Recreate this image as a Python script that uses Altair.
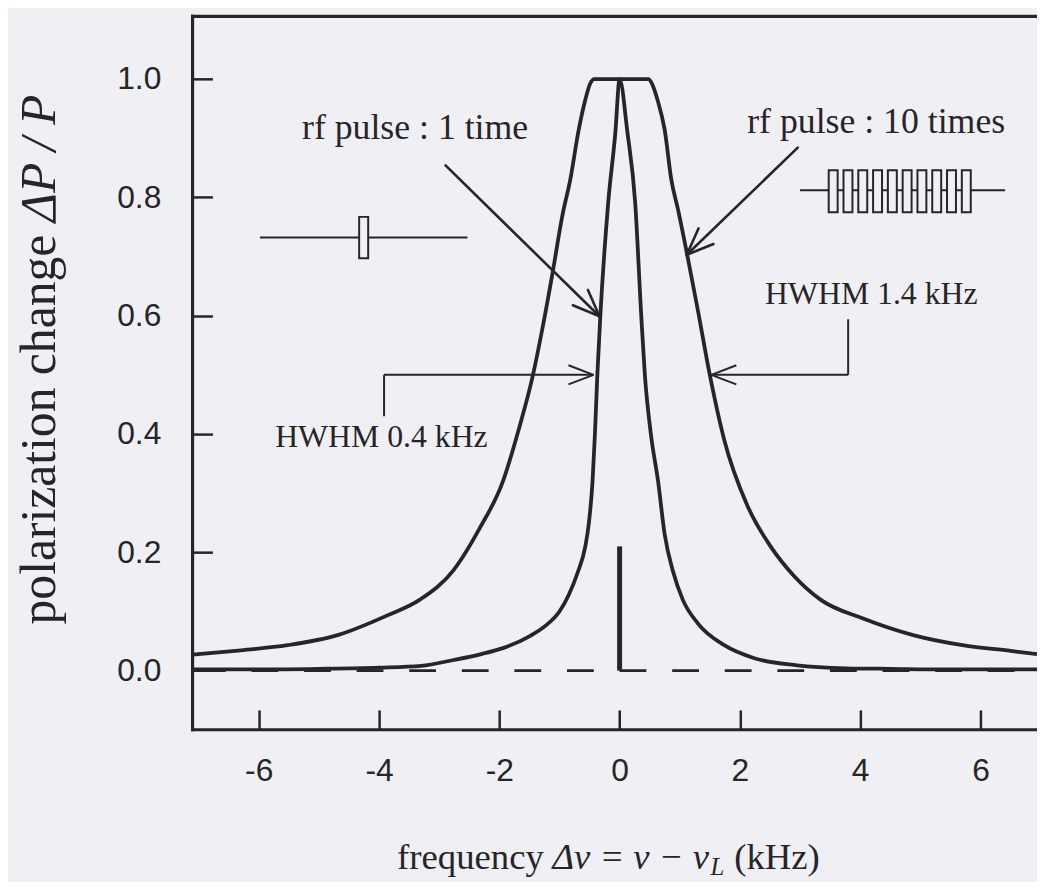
import math
import altair as alt
import pandas as pd

# ---------------- data ----------------
# rf pulse applied 1 time (narrow line, HWHM 0.4 kHz)
narrow_x = [-7.10, -6.0, -5.0, -4.0, -3.3, -2.76, -2.3, -1.94, -1.5, -1.23, -1.0, -0.85,
            -0.70, -0.57, -0.51, -0.45, -0.41, -0.37, -0.32, -0.19, -0.07, 0.0, 0.13,
            0.26, 0.36, 0.42, 0.52, 0.64, 0.75, 0.89, 1.05, 1.30, 1.74, 2.24, 2.95,
            3.77, 4.5, 5.5, 6.94]
narrow_y = [0.002, 0.002, 0.003, 0.005, 0.008, 0.018, 0.028, 0.038, 0.058, 0.076, 0.10, 0.127,
            0.165, 0.21, 0.25, 0.32, 0.40, 0.50, 0.60, 0.79, 0.91, 1.0, 0.91,
            0.79, 0.60, 0.50, 0.40, 0.32, 0.23, 0.167, 0.12, 0.080, 0.043, 0.021, 0.009,
            0.004, 0.003, 0.002, 0.002]

# rf pulse applied 10 times (broad, saturated line, HWHM 1.4 kHz)
broad_x = [-7.10, -6.34, -5.52, -4.69, -3.87, -3.32, -2.76, -2.33, -1.94, -1.67, -1.44,
           -1.28, -1.11, -0.95, -0.82, -0.68, -0.57, -0.49, -0.42, 0.48, 0.54, 0.63,
           0.75, 0.86, 0.97, 1.13, 1.30, 1.50, 1.74, 2.12, 2.51, 2.90, 3.34, 4.05,
           4.88, 5.70, 6.53, 6.94]
broad_y = [0.027, 0.034, 0.043, 0.060, 0.093, 0.12, 0.17, 0.24, 0.32, 0.41, 0.50,
           0.58, 0.675, 0.77, 0.83, 0.914, 0.965, 0.992, 1.0, 1.0, 0.992, 0.965,
           0.914, 0.83, 0.78, 0.70, 0.61, 0.50, 0.39, 0.28, 0.21, 0.16, 0.12, 0.088,
           0.060, 0.043, 0.033, 0.028]

series_names = ["rf pulse : 1 time", "rf pulse : 10 times"]
x_tick_values = [-6, -4, -2, 0, 2, 4, 6]
y_tick_values = [0.0, 0.2, 0.4, 0.6, 0.8, 1.0]

# resonance marker at Δν = 0
marker_x = [0.0]
marker_top = [0.21]

# annotation texts
label_texts = ["rf pulse : 1 time", "rf pulse : 10 times"]
hwhm_texts = ["HWHM 0.4 kHz", "HWHM 1.4 kHz"]

# ---------------- layout / style ----------------
X0, X1 = -7.10, 6.94
Y0, Y1 = -0.10, 1.106
W, H = 851, 719
PXX = W / (X1 - X0)   # pixels per kHz
PXY = H / (Y1 - Y0)   # pixels per unit of ΔP/P

INK = "#262529"
BG = "#f0eff3"
SERIF = "Liberation Serif"
SANS = "Liberation Sans"

xs = alt.Scale(domain=[X0, X1], nice=False, zero=False)
ys = alt.Scale(domain=[Y0, Y1], nice=False, zero=False)

x_axis = alt.Axis(values=x_tick_values, title=None, domain=False, grid=False,
                  offset=-20, tickSize=20, tickWidth=2.5, tickColor=INK,
                  labelFont=SANS, labelFontSize=32, labelColor=INK, labelPadding=26,
                  labelFlush=False, labelOverlap=False,
                  labelExpr="datum.value < 0 ? '-' + abs(datum.value) : '' + datum.value")
y_axis = alt.Axis(values=y_tick_values, format=".1f", title=None, domain=False, grid=False,
                  offset=-20, tickSize=20, tickWidth=2.5, tickColor=INK,
                  labelFont=SANS, labelFontSize=32, labelColor=INK, labelPadding=32,
                  labelFlush=False, labelOverlap=False)


def X(f="x"):
    return alt.X(f"{f}:Q", scale=xs, axis=x_axis)


def Y(f="y"):
    return alt.Y(f"{f}:Q", scale=ys, axis=y_axis)


# ---------------- curves ----------------
curves = pd.concat([
    pd.DataFrame({"x": narrow_x, "y": narrow_y, "series": series_names[0]}),
    pd.DataFrame({"x": broad_x, "y": broad_y, "series": series_names[1]}),
])

lines = alt.Chart(curves).mark_line(
    color=INK, strokeWidth=3.8, interpolate="monotone", strokeJoin="round"
).encode(x=X(), y=Y(), detail="series:N")

# ---------------- frame (left, top, bottom) ----------------
frame_df = pd.DataFrame({"x": [X0, X0, X0], "x2": [X0, X1, X1],
                         "y": [Y0, Y1, Y0], "y2": [Y1, Y1, Y0]})
frame = alt.Chart(frame_df).mark_rule(color=INK, strokeWidth=3.2, strokeCap="square").encode(
    x=X(), x2="x2:Q", y=Y(), y2="y2:Q")

# ---------------- dashed zero line and marker ----------------
base_r = alt.Chart(pd.DataFrame({"x": [0.0], "x2": [X1], "y": [0.0]})).mark_rule(
    color=INK, strokeWidth=3, strokeDash=[27, 26]).encode(x=X(), x2="x2:Q", y=Y())
base_l = alt.Chart(pd.DataFrame({"x": [0.0], "x2": [X0], "y": [0.0]})).mark_rule(
    color=INK, strokeWidth=3, strokeDash=[27, 26], strokeDashOffset=27).encode(
    x=X(), x2="x2:Q", y=Y())
marker = alt.Chart(pd.DataFrame({"x": marker_x, "y": [0.0], "y2": marker_top})).mark_rule(
    color=INK, strokeWidth=5).encode(x=X(), y=Y(), y2="y2:Q")


# ---------------- arrows ----------------
def barbs(tip, tail, length=29, ang=22):
    dx = (tail[0] - tip[0]) * PXX
    dy = (tail[1] - tip[1]) * PXY
    n = math.hypot(dx, dy)
    ux, uy = dx / n, dy / n
    out = []
    for s in (1, -1):
        a = math.radians(ang * s)
        vx = ux * math.cos(a) - uy * math.sin(a)
        vy = ux * math.sin(a) + uy * math.cos(a)
        out.append((tip[0], tip[1], tip[0] + vx * length / PXX, tip[1] + vy * length / PXY))
    return out


thick = []
thin = []
# rf pulse : 1 time  -> narrow curve
t1, h1 = (-2.894, 0.854), (-0.335, 0.599)
thick.append((t1[0], t1[1], h1[0], h1[1]))
thick += barbs(h1, t1)
# rf pulse : 10 times -> broad curve
t2, h2 = (2.962, 0.884), (1.117, 0.703)
thick.append((t2[0], t2[1], h2[0], h2[1]))
thick += barbs(h2, t2)
# HWHM 1.4 kHz connector
thin.append((3.80, 0.594, 3.80, 0.50))
thin.append((3.80, 0.50, 1.525, 0.50))
thin += barbs((1.525, 0.50), (3.80, 0.50), length=27, ang=21)
# HWHM 0.4 kHz connector
thin.append((-3.916, 0.43, -3.916, 0.50))
thin.append((-3.916, 0.50, -0.434, 0.50))
thin += barbs((-0.434, 0.50), (-3.916, 0.50), length=27, ang=21)

cols = ["x", "y", "x2", "y2"]
arrows_thick = alt.Chart(pd.DataFrame(thick, columns=cols)).mark_rule(
    color=INK, strokeWidth=2.6, strokeCap="round").encode(x=X(), y=Y(), x2="x2:Q", y2="y2:Q")
arrows_thin = alt.Chart(pd.DataFrame(thin, columns=cols)).mark_rule(
    color=INK, strokeWidth=2.0).encode(x=X(), y=Y(), x2="x2:Q", y2="y2:Q")

# ---------------- pulse sketches ----------------
pulse_lines = pd.DataFrame({"x": [-5.98, 3.00], "x2": [-2.53, 6.41], "y": [0.732, 0.812]})
p_lines = alt.Chart(pulse_lines).mark_rule(color=INK, strokeWidth=2).encode(
    x=X(), x2="x2:Q", y=Y())

rects = [(-4.33, -4.18, 0.697, 0.767)]
start, pitch, pw = 3.477, 0.2459, 0.1485
for i in range(10):
    rects.append((start + i * pitch, start + i * pitch + pw, 0.775, 0.846))
p_rects = alt.Chart(pd.DataFrame(rects, columns=["x", "x2", "y", "y2"])).mark_rect(
    fill=BG, stroke=INK, strokeWidth=2).encode(x=X(), x2="x2:Q", y=Y(), y2="y2:Q")

# ---------------- annotation texts ----------------
lab_df = pd.DataFrame({"text": label_texts, "x": [-3.40, 4.266], "y": [0.898, 0.908]})
labels = alt.Chart(lab_df).mark_text(font=SERIF, fontSize=36, color=INK, align="center",
                                     baseline="alphabetic").encode(x=X(), y=Y(), text="text:N")
hw_df = pd.DataFrame({"text": hwhm_texts, "x": [-3.96, 4.185], "y": [0.378, 0.619]})
hwhm = alt.Chart(hw_df).mark_text(font=SERIF, fontSize=32, color=INK, align="center",
                                  baseline="alphabetic").encode(x=X(), y=Y(), text="text:N")

# ---------------- axis titles (mixed roman / italic) ----------------
xt_y = -0.3346
xt_roman = pd.DataFrame({"text": ["frequency", "(kHz)"], "x": [-3.70, 1.905], "y": [xt_y, xt_y]})
xt_italic = pd.DataFrame({"text": ["Δν = ν − ν"], "x": [-1.117], "y": [xt_y]})
xt_sub = pd.DataFrame({"text": ["L"], "x": [1.511], "y": [xt_y - 6 / PXY]})

t_roman = alt.Chart(xt_roman).mark_text(font=SERIF, fontSize=37, color=INK, align="left",
                                        baseline="alphabetic").encode(x=X(), y=Y(), text="text:N")
t_italic = alt.Chart(xt_italic).mark_text(font=SERIF, fontSize=37, fontStyle="italic", color=INK,
                                          align="left", baseline="alphabetic").encode(
    x=X(), y=Y(), text="text:N")
t_sub = alt.Chart(xt_sub).mark_text(font=SERIF, fontSize=25, fontStyle="italic", color=INK,
                                    align="left", baseline="alphabetic").encode(
    x=X(), y=Y(), text="text:N")

yt_x = -9.39
y_start = 0.078
y_roman_len = 8.109 * 50 / PXY
yt_roman = pd.DataFrame({"text": ["polarization change"], "x": [yt_x], "y": [y_start]})
yt_italic = pd.DataFrame({"text": ["ΔP / P"], "x": [yt_x], "y": [y_start + y_roman_len]})
y_roman = alt.Chart(yt_roman).mark_text(font=SERIF, fontSize=50, color=INK, align="left",
                                        baseline="alphabetic", angle=270).encode(
    x=X(), y=Y(), text="text:N")
y_italic = alt.Chart(yt_italic).mark_text(font=SERIF, fontSize=50, fontStyle="italic", color=INK,
                                          align="left", baseline="alphabetic", angle=270).encode(
    x=X(), y=Y(), text="text:N")

chart = alt.layer(
    base_l, base_r, marker, lines, frame, arrows_thick, arrows_thin, p_lines, p_rects,
    labels, hwhm, t_roman, t_italic, t_sub, y_roman, y_italic,
).properties(
    width=W, height=H,
    padding={"left": 186, "top": 5, "right": 0, "bottom": 150},
    autosize=alt.AutoSizeParams(type="none"),
    background=BG,
).configure_view(stroke=None)

chart.save("out.html", embed_options={"renderer": "svg", "actions": False})
